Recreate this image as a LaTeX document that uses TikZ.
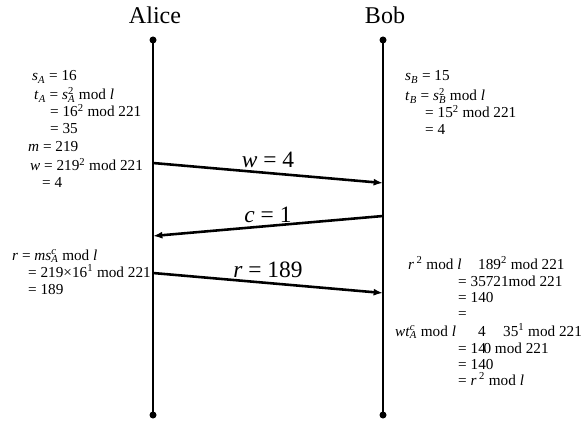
\documentclass[tikz,border=0pt]{standalone}
\usepackage{fontspec}
\setmainfont{Liberation Serif}
\usepackage{tikz}
\usetikzlibrary{arrows.meta}
\newcommand{\iv}[1]{\textit{#1}}
\newcommand{\sbp}[3]{#1\rlap{\textsuperscript{#3}}\textsubscript{#2}}
\tikzset{
  party/.style={font=\fontsize{20.5}{24}\selectfont, anchor=base, inner sep=0pt},
  calcline/.style={font=\fontsize{13}{16}\selectfont, anchor=base west, inner sep=0pt},
  msg/.style={-{Latex[length=8pt,width=6pt]}, line width=2.2pt},
  msglabel/.style={font=\fontsize{20}{22}\selectfont, inner sep=0pt},
  lifeline/.style={line width=2.2pt},
}

\begin{document}
\begin{tikzpicture}[x=0.03cm,y=-0.03cm]
  \useasboundingbox (0,0) rectangle (584,426);
  \node[party] (alice) at (155,24) {Alice};
  \node[party] (bob) at (385,24) {Bob};
  \coordinate (atop) at (153,40);
  \coordinate (abot) at (153,415);
  \coordinate (btop) at (383,40);
  \coordinate (bbot) at (383,415);
  \draw[lifeline] (atop) -- (abot);
  \draw[lifeline] (btop) -- (bbot);
  \foreach \p in {atop,abot,btop,bbot}
    \fill (\p) circle (3.5);

  \coordinate (aw) at (153,163);
  \coordinate (bw) at (383,183);
  \coordinate (bc) at (383,216);
  \coordinate (ac) at (153,236);
  \coordinate (ar) at (153,273);
  \coordinate (br) at (383,293);
  \draw[msg] (aw) -- (bw) node[msglabel,midway,yshift=0.39cm] {\iv{w} = 4};
  \draw[msg] (bc) -- (ac) node[msglabel,midway,yshift=0.34cm] {\iv{c} = 1};
  \draw[msg] (ar) -- (br) node[msglabel,midway,yshift=0.39cm] {\iv{r} = 189};

  \node[calcline] (a1) at (32,81) {\sbp{\iv{s}}{\iv{A}}{} = 16};
  \node[calcline] (a2) at (34,100) {\sbp{\iv{t}}{\iv{A}}{} = \sbp{\iv{s}}{\iv{A}}{2} mod \iv{l}};
  \node[calcline] (a3) at (50,117) {= 16\textsuperscript{2} mod 221};
  \node[calcline] (a4) at (50,134) {= 35};
  \node[calcline] (a5) at (28,152) {\iv{m} = 219};
  \node[calcline] (a6) at (30,171) {\iv{w} = 219\textsuperscript{2} mod 221};
  \node[calcline] (a7) at (42,188) {= 4};

  \node[calcline] (b1) at (405,81) {\sbp{\iv{s}}{\iv{B}}{} = 15};
  \node[calcline] (b2) at (405,101) {\sbp{\iv{t}}{\iv{B}}{} = \sbp{\iv{s}}{\iv{B}}{2} mod \iv{l}};
  \node[calcline] (b3) at (425,118) {= 15\textsuperscript{2} mod 221};
  \node[calcline] (b4) at (425,135) {= 4};

  \node[calcline] (a8) at (12,260) {\iv{r} = \iv{m}\sbp{\iv{s}}{\iv{A}}{\iv{c}} mod \iv{l}};
  \node[calcline] (a9) at (28,277) {= 219×16\textsuperscript{1} mod 221};
  \node[calcline] (a10) at (28,294) {= 189};

  \node[calcline] (b5) at (408,269) {\iv{r}\,\textsuperscript{2} mod \iv{l}};
  \node[calcline] (b5r) at (478,269) {189\textsuperscript{2} mod 221};
  \node[calcline] (b6) at (458,286) {= 35721mod 221};
  \node[calcline] (b7) at (458,302) {= 140};
  \node[calcline] (b8) at (458,318) {=};
  \node[calcline] (b9) at (395,336) {\iv{w}\sbp{\iv{t}}{\iv{A}}{\iv{c}} mod \iv{l}};
  \node[calcline] (b9m) at (478,336) {4};
  \node[calcline] (b9r) at (503,336) {35\textsuperscript{1} mod 221};
  \node[calcline] (b10) at (458,353) {= 14\kern-2pt0 mod 221};
  \node[calcline] (b11) at (458,369) {= 140};
  \node[calcline] (b12) at (458,385) {= \iv{r}\,\textsuperscript{2} mod \iv{l}};
\end{tikzpicture}
\end{document}
